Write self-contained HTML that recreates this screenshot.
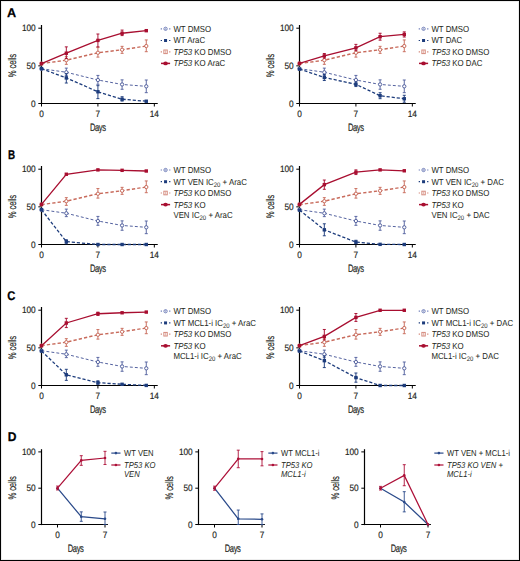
<!DOCTYPE html>
<html><head><meta charset="utf-8"><style>
html,body{margin:0;padding:0;background:#fff;}
body{width:520px;height:561px;position:relative;overflow:hidden;font-family:"Liberation Sans",sans-serif;}
.frame{position:absolute;left:0;top:0;width:518px;height:559px;border:1px solid #000;box-shadow:inset 0 0 0 1px rgba(0,0,0,0.07);}
</style></head><body>
<svg width="520" height="561" viewBox="0 0 520 561" font-family="Liberation Sans, sans-serif" text-rendering="geometricPrecision" style="position:absolute;left:0;top:0">
<rect x="0" y="0" width="520" height="561" fill="#fff"/>
<text transform="translate(6.90,17.26) scale(1.0,1)" font-size="12.7" fill="#000" font-weight="bold" stroke="#000" stroke-width="0.25">A</text>
<text transform="translate(8.00,159.06) scale(0.78,1)" font-size="12.7" fill="#000" font-weight="bold" stroke="#000" stroke-width="0.25">B</text>
<text transform="translate(7.30,300.06) scale(0.88,1)" font-size="12.7" fill="#000" font-weight="bold" stroke="#000" stroke-width="0.25">C</text>
<line x1="41.50" y1="25.00" x2="41.50" y2="104.10" stroke="#000" stroke-width="1.2" />
<line x1="40.90" y1="103.50" x2="157.74" y2="103.50" stroke="#000" stroke-width="1.2" />
<line x1="38.30" y1="103.50" x2="41.50" y2="103.50" stroke="#000" stroke-width="1.0" />
<text transform="translate(35.70,106.70) scale(0.9,1)" font-size="9.2" text-anchor="end" fill="#231f20" font-weight="normal" stroke="#231f20" stroke-width="0.17" >0</text>
<line x1="38.30" y1="65.85" x2="41.50" y2="65.85" stroke="#000" stroke-width="1.0" />
<text transform="translate(35.70,69.05) scale(0.9,1)" font-size="9.2" text-anchor="end" fill="#231f20" font-weight="normal" stroke="#231f20" stroke-width="0.17" >50</text>
<line x1="38.30" y1="28.20" x2="41.50" y2="28.20" stroke="#000" stroke-width="1.0" />
<text transform="translate(35.70,31.40) scale(0.9,1)" font-size="9.2" text-anchor="end" fill="#231f20" font-weight="normal" stroke="#231f20" stroke-width="0.17" >100</text>
<line x1="41.50" y1="103.50" x2="41.50" y2="106.50" stroke="#000" stroke-width="1.0" />
<text transform="translate(41.50,117.10) scale(0.9,1)" font-size="9.2" text-anchor="middle" fill="#231f20" font-weight="normal" stroke="#231f20" stroke-width="0.17" >0</text>
<line x1="97.92" y1="103.50" x2="97.92" y2="106.50" stroke="#000" stroke-width="1.0" />
<text transform="translate(97.92,117.10) scale(0.9,1)" font-size="9.2" text-anchor="middle" fill="#231f20" font-weight="normal" stroke="#231f20" stroke-width="0.17" >7</text>
<line x1="154.34" y1="103.50" x2="154.34" y2="106.50" stroke="#000" stroke-width="1.0" />
<text transform="translate(154.34,117.10) scale(0.9,1)" font-size="9.2" text-anchor="middle" fill="#231f20" font-weight="normal" stroke="#231f20" stroke-width="0.17" >14</text>
<text transform="translate(97.80,130.50) scale(0.7,1)" font-size="10.8" text-anchor="middle" fill="#231f20" font-weight="normal" stroke="#231f20" stroke-width="0.17" letter-spacing="-0.5">Days</text>
<text transform="translate(16.30,65.60) rotate(-90) scale(0.70,1)" font-size="11" text-anchor="middle" fill="#231f20" letter-spacing="-0.25" stroke="#231f20" stroke-width="0.17">% cells</text>
<path d="M41.50,68.71 L66.32,72.25 L97.92,80.01 L122.10,84.45 L146.28,86.33" fill="none" stroke="#5563a0" stroke-width="1.0" stroke-dasharray="2.9,2.1"/>
<circle cx="41.50" cy="68.71" r="1.65" fill="#fff" stroke="#5563a0" stroke-width="1.0"/>
<path d="M66.32,68.11V75.64M64.82,68.11h3M64.82,75.64h3" stroke="#5563a0" stroke-width="0.95" fill="none"/>
<circle cx="66.32" cy="72.25" r="1.65" fill="#fff" stroke="#5563a0" stroke-width="1.0"/>
<path d="M97.92,75.41V84.30M96.42,75.41h3M96.42,84.30h3" stroke="#5563a0" stroke-width="0.95" fill="none"/>
<circle cx="97.92" cy="80.01" r="1.65" fill="#fff" stroke="#5563a0" stroke-width="1.0"/>
<path d="M122.10,79.86V89.27M120.60,79.86h3M120.60,89.27h3" stroke="#5563a0" stroke-width="0.95" fill="none"/>
<circle cx="122.10" cy="84.45" r="1.65" fill="#fff" stroke="#5563a0" stroke-width="1.0"/>
<path d="M146.28,80.01V92.66M144.78,80.01h3M144.78,92.66h3" stroke="#5563a0" stroke-width="0.95" fill="none"/>
<circle cx="146.28" cy="86.33" r="1.65" fill="#fff" stroke="#5563a0" stroke-width="1.0"/>
<path d="M41.50,68.71 L66.32,77.90 L97.92,91.75 L122.10,99.21 L146.28,101.24" fill="none" stroke="#1d3c7c" stroke-width="1.3" stroke-dasharray="3.2,1.9"/>
<rect x="39.80" y="67.01" width="3.4" height="3.4" fill="#1d3c7c"/>
<path d="M66.32,73.76V83.02M64.82,73.76h3M64.82,83.02h3" stroke="#1d3c7c" stroke-width="0.95" fill="none"/>
<rect x="64.62" y="76.20" width="3.4" height="3.4" fill="#1d3c7c"/>
<path d="M97.92,85.65V98.61M96.42,85.65h3M96.42,98.61h3" stroke="#1d3c7c" stroke-width="0.95" fill="none"/>
<rect x="96.22" y="90.05" width="3.4" height="3.4" fill="#1d3c7c"/>
<path d="M122.10,96.72V101.09M120.60,96.72h3M120.60,101.09h3" stroke="#1d3c7c" stroke-width="0.95" fill="none"/>
<rect x="120.40" y="97.51" width="3.4" height="3.4" fill="#1d3c7c"/>
<rect x="144.58" y="99.54" width="3.4" height="3.4" fill="#1d3c7c"/>
<path d="M41.50,63.59 L66.32,60.20 L97.92,52.75 L122.10,49.74 L146.28,46.05" fill="none" stroke="#c86b5c" stroke-width="1.4" stroke-dasharray="3.3,2.1"/>
<circle cx="41.50" cy="63.59" r="1.65" fill="#fff" stroke="#c86b5c" stroke-width="1.0"/>
<path d="M66.32,56.66V64.34M64.82,56.66h3M64.82,64.34h3" stroke="#c86b5c" stroke-width="0.95" fill="none"/>
<circle cx="66.32" cy="60.20" r="1.65" fill="#fff" stroke="#c86b5c" stroke-width="1.0"/>
<path d="M97.92,47.55V57.12M96.42,47.55h3M96.42,57.12h3" stroke="#c86b5c" stroke-width="0.95" fill="none"/>
<circle cx="97.92" cy="52.75" r="1.65" fill="#fff" stroke="#c86b5c" stroke-width="1.0"/>
<path d="M122.10,46.35V53.35M120.60,46.35h3M120.60,53.35h3" stroke="#c86b5c" stroke-width="0.95" fill="none"/>
<circle cx="122.10" cy="49.74" r="1.65" fill="#fff" stroke="#c86b5c" stroke-width="1.0"/>
<path d="M146.28,39.95V51.69M144.78,39.95h3M144.78,51.69h3" stroke="#c86b5c" stroke-width="0.95" fill="none"/>
<circle cx="146.28" cy="46.05" r="1.65" fill="#fff" stroke="#c86b5c" stroke-width="1.0"/>
<path d="M41.50,63.59 L66.32,53.20 L97.92,40.40 L122.10,33.25 L146.28,30.68" fill="none" stroke="#a80e30" stroke-width="1.3" />
<rect x="39.80" y="61.89" width="3.4" height="3.4" fill="#a80e30"/>
<path d="M66.32,46.87V58.47M64.82,46.87h3M64.82,58.47h3" stroke="#a80e30" stroke-width="0.95" fill="none"/>
<rect x="64.62" y="51.50" width="3.4" height="3.4" fill="#a80e30"/>
<path d="M97.92,34.00V46.80M96.42,34.00h3M96.42,46.80h3" stroke="#a80e30" stroke-width="0.95" fill="none"/>
<rect x="96.22" y="38.70" width="3.4" height="3.4" fill="#a80e30"/>
<path d="M122.10,30.08V35.58M120.60,30.08h3M120.60,35.58h3" stroke="#a80e30" stroke-width="0.95" fill="none"/>
<rect x="120.40" y="31.55" width="3.4" height="3.4" fill="#a80e30"/>
<rect x="144.58" y="28.98" width="3.4" height="3.4" fill="#a80e30"/>
<path d="M160.70,28.80h1.3M169.10,28.80h1.3" stroke="#7482bb" stroke-width="1.2" fill="none"/>
<circle cx="165.55" cy="28.80" r="1.65" fill="#fff" stroke="#7482bb" stroke-width="1.0"/>
<line x1="165.55" y1="27.60" x2="165.55" y2="30.00" stroke="#7482bb" stroke-width="0.6" />
<text transform="translate(173.40,31.70) scale(0.903,1)" font-size="8.7" text-anchor="start" fill="#231f20" font-weight="normal"  >WT DMSO</text>
<path d="M160.70,40.50h1.3M169.10,40.50h1.3" stroke="#1d3c7c" stroke-width="1.2" fill="none"/>
<rect x="164.05" y="39.00" width="3.0" height="3.0" fill="#1d3c7c"/>
<text transform="translate(173.40,43.40) scale(0.903,1)" font-size="8.7" text-anchor="start" fill="#231f20" font-weight="normal"  >WT AraC</text>
<path d="M160.70,51.80h1.3M169.10,51.80h1.3" stroke="#d58b7e" stroke-width="1.2" fill="none"/>
<rect x="163.85" y="50.00" width="3.4" height="3.6" fill="#fff" stroke="#d58b7e" stroke-width="1.0"/>
<line x1="165.55" y1="50.40" x2="165.55" y2="53.20" stroke="#d58b7e" stroke-width="0.6" />
<text transform="translate(173.40,54.70) scale(0.903,1)" font-size="8.7" text-anchor="start" fill="#231f20" font-weight="normal"  ><tspan font-style="italic">TP53</tspan> KO DMSO</text>
<line x1="161.00" y1="63.40" x2="170.10" y2="63.40" stroke="#a80e30" stroke-width="1.5" />
<ellipse cx="165.55" cy="63.40" rx="2.3" ry="1.9" fill="#a80e30"/>
<text transform="translate(173.40,66.30) scale(0.903,1)" font-size="8.7" text-anchor="start" fill="#231f20" font-weight="normal"  ><tspan font-style="italic">TP53</tspan> KO AraC</text>
<line x1="299.50" y1="25.00" x2="299.50" y2="104.10" stroke="#000" stroke-width="1.2" />
<line x1="298.90" y1="103.50" x2="415.74" y2="103.50" stroke="#000" stroke-width="1.2" />
<line x1="296.30" y1="103.50" x2="299.50" y2="103.50" stroke="#000" stroke-width="1.0" />
<text transform="translate(293.70,106.70) scale(0.9,1)" font-size="9.2" text-anchor="end" fill="#231f20" font-weight="normal" stroke="#231f20" stroke-width="0.17" >0</text>
<line x1="296.30" y1="65.85" x2="299.50" y2="65.85" stroke="#000" stroke-width="1.0" />
<text transform="translate(293.70,69.05) scale(0.9,1)" font-size="9.2" text-anchor="end" fill="#231f20" font-weight="normal" stroke="#231f20" stroke-width="0.17" >50</text>
<line x1="296.30" y1="28.20" x2="299.50" y2="28.20" stroke="#000" stroke-width="1.0" />
<text transform="translate(293.70,31.40) scale(0.9,1)" font-size="9.2" text-anchor="end" fill="#231f20" font-weight="normal" stroke="#231f20" stroke-width="0.17" >100</text>
<line x1="299.50" y1="103.50" x2="299.50" y2="106.50" stroke="#000" stroke-width="1.0" />
<text transform="translate(299.50,117.10) scale(0.9,1)" font-size="9.2" text-anchor="middle" fill="#231f20" font-weight="normal" stroke="#231f20" stroke-width="0.17" >0</text>
<line x1="355.92" y1="103.50" x2="355.92" y2="106.50" stroke="#000" stroke-width="1.0" />
<text transform="translate(355.92,117.10) scale(0.9,1)" font-size="9.2" text-anchor="middle" fill="#231f20" font-weight="normal" stroke="#231f20" stroke-width="0.17" >7</text>
<line x1="412.34" y1="103.50" x2="412.34" y2="106.50" stroke="#000" stroke-width="1.0" />
<text transform="translate(412.34,117.10) scale(0.9,1)" font-size="9.2" text-anchor="middle" fill="#231f20" font-weight="normal" stroke="#231f20" stroke-width="0.17" >14</text>
<text transform="translate(355.80,130.50) scale(0.7,1)" font-size="10.8" text-anchor="middle" fill="#231f20" font-weight="normal" stroke="#231f20" stroke-width="0.17" letter-spacing="-0.5">Days</text>
<text transform="translate(274.30,65.60) rotate(-90) scale(0.70,1)" font-size="11" text-anchor="middle" fill="#231f20" letter-spacing="-0.25" stroke="#231f20" stroke-width="0.17">% cells</text>
<path d="M299.50,68.71 L324.32,72.25 L355.92,80.01 L380.10,84.45 L404.28,86.33" fill="none" stroke="#5563a0" stroke-width="1.0" stroke-dasharray="2.9,2.1"/>
<circle cx="299.50" cy="68.71" r="1.65" fill="#fff" stroke="#5563a0" stroke-width="1.0"/>
<path d="M324.32,68.11V75.64M322.82,68.11h3M322.82,75.64h3" stroke="#5563a0" stroke-width="0.95" fill="none"/>
<circle cx="324.32" cy="72.25" r="1.65" fill="#fff" stroke="#5563a0" stroke-width="1.0"/>
<path d="M355.92,75.41V84.30M354.42,75.41h3M354.42,84.30h3" stroke="#5563a0" stroke-width="0.95" fill="none"/>
<circle cx="355.92" cy="80.01" r="1.65" fill="#fff" stroke="#5563a0" stroke-width="1.0"/>
<path d="M380.10,79.86V89.27M378.60,79.86h3M378.60,89.27h3" stroke="#5563a0" stroke-width="0.95" fill="none"/>
<circle cx="380.10" cy="84.45" r="1.65" fill="#fff" stroke="#5563a0" stroke-width="1.0"/>
<path d="M404.28,80.01V92.66M402.78,80.01h3M402.78,92.66h3" stroke="#5563a0" stroke-width="0.95" fill="none"/>
<circle cx="404.28" cy="86.33" r="1.65" fill="#fff" stroke="#5563a0" stroke-width="1.0"/>
<path d="M299.50,69.09 L324.32,77.45 L355.92,84.37 L380.10,95.74 L404.28,98.76" fill="none" stroke="#1d3c7c" stroke-width="1.3" stroke-dasharray="3.2,1.9"/>
<rect x="297.80" y="67.39" width="3.4" height="3.4" fill="#1d3c7c"/>
<path d="M324.32,74.51V80.53M322.82,74.51h3M322.82,80.53h3" stroke="#1d3c7c" stroke-width="0.95" fill="none"/>
<rect x="322.62" y="75.75" width="3.4" height="3.4" fill="#1d3c7c"/>
<path d="M355.92,82.04V86.56M354.42,82.04h3M354.42,86.56h3" stroke="#1d3c7c" stroke-width="0.95" fill="none"/>
<rect x="354.22" y="82.67" width="3.4" height="3.4" fill="#1d3c7c"/>
<path d="M380.10,92.73V98.68M378.60,92.73h3M378.60,98.68h3" stroke="#1d3c7c" stroke-width="0.95" fill="none"/>
<rect x="378.40" y="94.04" width="3.4" height="3.4" fill="#1d3c7c"/>
<path d="M404.28,95.29V102.22M402.78,95.29h3M402.78,102.22h3" stroke="#1d3c7c" stroke-width="0.95" fill="none"/>
<rect x="402.58" y="97.06" width="3.4" height="3.4" fill="#1d3c7c"/>
<path d="M299.50,63.59 L324.32,60.20 L355.92,52.75 L380.10,49.74 L404.28,46.05" fill="none" stroke="#c86b5c" stroke-width="1.4" stroke-dasharray="3.3,2.1"/>
<circle cx="299.50" cy="63.59" r="1.65" fill="#fff" stroke="#c86b5c" stroke-width="1.0"/>
<path d="M324.32,56.66V64.34M322.82,56.66h3M322.82,64.34h3" stroke="#c86b5c" stroke-width="0.95" fill="none"/>
<circle cx="324.32" cy="60.20" r="1.65" fill="#fff" stroke="#c86b5c" stroke-width="1.0"/>
<path d="M355.92,47.55V57.12M354.42,47.55h3M354.42,57.12h3" stroke="#c86b5c" stroke-width="0.95" fill="none"/>
<circle cx="355.92" cy="52.75" r="1.65" fill="#fff" stroke="#c86b5c" stroke-width="1.0"/>
<path d="M380.10,46.35V53.35M378.60,46.35h3M378.60,53.35h3" stroke="#c86b5c" stroke-width="0.95" fill="none"/>
<circle cx="380.10" cy="49.74" r="1.65" fill="#fff" stroke="#c86b5c" stroke-width="1.0"/>
<path d="M404.28,39.95V51.69M402.78,39.95h3M402.78,51.69h3" stroke="#c86b5c" stroke-width="0.95" fill="none"/>
<circle cx="404.28" cy="46.05" r="1.65" fill="#fff" stroke="#c86b5c" stroke-width="1.0"/>
<path d="M299.50,63.37 L324.32,55.91 L355.92,47.85 L380.10,36.71 L404.28,34.45" fill="none" stroke="#a80e30" stroke-width="1.3" />
<rect x="297.80" y="61.67" width="3.4" height="3.4" fill="#a80e30"/>
<path d="M324.32,53.50V58.17M322.82,53.50h3M322.82,58.17h3" stroke="#a80e30" stroke-width="0.95" fill="none"/>
<rect x="322.62" y="54.21" width="3.4" height="3.4" fill="#a80e30"/>
<path d="M355.92,44.39V50.64M354.42,44.39h3M354.42,50.64h3" stroke="#a80e30" stroke-width="0.95" fill="none"/>
<rect x="354.22" y="46.15" width="3.4" height="3.4" fill="#a80e30"/>
<path d="M380.10,33.25V40.17M378.60,33.25h3M378.60,40.17h3" stroke="#a80e30" stroke-width="0.95" fill="none"/>
<rect x="378.40" y="35.01" width="3.4" height="3.4" fill="#a80e30"/>
<path d="M404.28,31.89V37.01M402.78,31.89h3M402.78,37.01h3" stroke="#a80e30" stroke-width="0.95" fill="none"/>
<rect x="402.58" y="32.75" width="3.4" height="3.4" fill="#a80e30"/>
<path d="M418.70,28.80h1.3M427.10,28.80h1.3" stroke="#7482bb" stroke-width="1.2" fill="none"/>
<circle cx="423.55" cy="28.80" r="1.65" fill="#fff" stroke="#7482bb" stroke-width="1.0"/>
<line x1="423.55" y1="27.60" x2="423.55" y2="30.00" stroke="#7482bb" stroke-width="0.6" />
<text transform="translate(431.40,31.70) scale(0.903,1)" font-size="8.7" text-anchor="start" fill="#231f20" font-weight="normal"  >WT DMSO</text>
<path d="M418.70,40.50h1.3M427.10,40.50h1.3" stroke="#1d3c7c" stroke-width="1.2" fill="none"/>
<rect x="422.05" y="39.00" width="3.0" height="3.0" fill="#1d3c7c"/>
<text transform="translate(431.40,43.40) scale(0.903,1)" font-size="8.7" text-anchor="start" fill="#231f20" font-weight="normal"  >WT DAC</text>
<path d="M418.70,51.80h1.3M427.10,51.80h1.3" stroke="#d58b7e" stroke-width="1.2" fill="none"/>
<rect x="421.85" y="50.00" width="3.4" height="3.6" fill="#fff" stroke="#d58b7e" stroke-width="1.0"/>
<line x1="423.55" y1="50.40" x2="423.55" y2="53.20" stroke="#d58b7e" stroke-width="0.6" />
<text transform="translate(431.40,54.70) scale(0.903,1)" font-size="8.7" text-anchor="start" fill="#231f20" font-weight="normal"  ><tspan font-style="italic">TP53</tspan> KO DMSO</text>
<line x1="419.00" y1="63.40" x2="428.10" y2="63.40" stroke="#a80e30" stroke-width="1.5" />
<ellipse cx="423.55" cy="63.40" rx="2.3" ry="1.9" fill="#a80e30"/>
<text transform="translate(431.40,66.30) scale(0.903,1)" font-size="8.7" text-anchor="start" fill="#231f20" font-weight="normal"  ><tspan font-style="italic">TP53</tspan> KO DAC</text>
<line x1="41.50" y1="166.00" x2="41.50" y2="245.10" stroke="#000" stroke-width="1.2" />
<line x1="40.90" y1="244.50" x2="157.74" y2="244.50" stroke="#000" stroke-width="1.2" />
<line x1="38.30" y1="244.50" x2="41.50" y2="244.50" stroke="#000" stroke-width="1.0" />
<text transform="translate(35.70,247.70) scale(0.9,1)" font-size="9.2" text-anchor="end" fill="#231f20" font-weight="normal" stroke="#231f20" stroke-width="0.17" >0</text>
<line x1="38.30" y1="206.85" x2="41.50" y2="206.85" stroke="#000" stroke-width="1.0" />
<text transform="translate(35.70,210.05) scale(0.9,1)" font-size="9.2" text-anchor="end" fill="#231f20" font-weight="normal" stroke="#231f20" stroke-width="0.17" >50</text>
<line x1="38.30" y1="169.20" x2="41.50" y2="169.20" stroke="#000" stroke-width="1.0" />
<text transform="translate(35.70,172.40) scale(0.9,1)" font-size="9.2" text-anchor="end" fill="#231f20" font-weight="normal" stroke="#231f20" stroke-width="0.17" >100</text>
<line x1="41.50" y1="244.50" x2="41.50" y2="247.50" stroke="#000" stroke-width="1.0" />
<text transform="translate(41.50,258.10) scale(0.9,1)" font-size="9.2" text-anchor="middle" fill="#231f20" font-weight="normal" stroke="#231f20" stroke-width="0.17" >0</text>
<line x1="97.92" y1="244.50" x2="97.92" y2="247.50" stroke="#000" stroke-width="1.0" />
<text transform="translate(97.92,258.10) scale(0.9,1)" font-size="9.2" text-anchor="middle" fill="#231f20" font-weight="normal" stroke="#231f20" stroke-width="0.17" >7</text>
<line x1="154.34" y1="244.50" x2="154.34" y2="247.50" stroke="#000" stroke-width="1.0" />
<text transform="translate(154.34,258.10) scale(0.9,1)" font-size="9.2" text-anchor="middle" fill="#231f20" font-weight="normal" stroke="#231f20" stroke-width="0.17" >14</text>
<text transform="translate(97.80,271.50) scale(0.7,1)" font-size="10.8" text-anchor="middle" fill="#231f20" font-weight="normal" stroke="#231f20" stroke-width="0.17" letter-spacing="-0.5">Days</text>
<text transform="translate(16.30,206.60) rotate(-90) scale(0.70,1)" font-size="11" text-anchor="middle" fill="#231f20" letter-spacing="-0.25" stroke="#231f20" stroke-width="0.17">% cells</text>
<path d="M41.50,209.71 L66.32,213.25 L97.92,221.01 L122.10,225.45 L146.28,227.33" fill="none" stroke="#5563a0" stroke-width="1.0" stroke-dasharray="2.9,2.1"/>
<circle cx="41.50" cy="209.71" r="1.65" fill="#fff" stroke="#5563a0" stroke-width="1.0"/>
<path d="M66.32,209.11V216.64M64.82,209.11h3M64.82,216.64h3" stroke="#5563a0" stroke-width="0.95" fill="none"/>
<circle cx="66.32" cy="213.25" r="1.65" fill="#fff" stroke="#5563a0" stroke-width="1.0"/>
<path d="M97.92,216.41V225.30M96.42,216.41h3M96.42,225.30h3" stroke="#5563a0" stroke-width="0.95" fill="none"/>
<circle cx="97.92" cy="221.01" r="1.65" fill="#fff" stroke="#5563a0" stroke-width="1.0"/>
<path d="M122.10,220.86V230.27M120.60,220.86h3M120.60,230.27h3" stroke="#5563a0" stroke-width="0.95" fill="none"/>
<circle cx="122.10" cy="225.45" r="1.65" fill="#fff" stroke="#5563a0" stroke-width="1.0"/>
<path d="M146.28,221.01V233.66M144.78,221.01h3M144.78,233.66h3" stroke="#5563a0" stroke-width="0.95" fill="none"/>
<circle cx="146.28" cy="227.33" r="1.65" fill="#fff" stroke="#5563a0" stroke-width="1.0"/>
<path d="M41.50,209.71 L66.32,241.64 L97.92,244.50 L122.10,244.50 L146.28,244.50" fill="none" stroke="#1d3c7c" stroke-width="1.3" stroke-dasharray="3.2,1.9"/>
<rect x="39.80" y="208.01" width="3.4" height="3.4" fill="#1d3c7c"/>
<path d="M66.32,239.76V243.75M64.82,239.76h3M64.82,243.75h3" stroke="#1d3c7c" stroke-width="0.95" fill="none"/>
<rect x="64.62" y="239.94" width="3.4" height="3.4" fill="#1d3c7c"/>
<rect x="96.22" y="242.80" width="3.4" height="3.4" fill="#1d3c7c"/>
<rect x="120.40" y="242.80" width="3.4" height="3.4" fill="#1d3c7c"/>
<rect x="144.58" y="242.80" width="3.4" height="3.4" fill="#1d3c7c"/>
<path d="M41.50,204.59 L66.32,201.20 L97.92,193.75 L122.10,190.74 L146.28,187.05" fill="none" stroke="#c86b5c" stroke-width="1.4" stroke-dasharray="3.3,2.1"/>
<circle cx="41.50" cy="204.59" r="1.65" fill="#fff" stroke="#c86b5c" stroke-width="1.0"/>
<path d="M66.32,197.66V205.34M64.82,197.66h3M64.82,205.34h3" stroke="#c86b5c" stroke-width="0.95" fill="none"/>
<circle cx="66.32" cy="201.20" r="1.65" fill="#fff" stroke="#c86b5c" stroke-width="1.0"/>
<path d="M97.92,188.55V198.12M96.42,188.55h3M96.42,198.12h3" stroke="#c86b5c" stroke-width="0.95" fill="none"/>
<circle cx="97.92" cy="193.75" r="1.65" fill="#fff" stroke="#c86b5c" stroke-width="1.0"/>
<path d="M122.10,187.35V194.35M120.60,187.35h3M120.60,194.35h3" stroke="#c86b5c" stroke-width="0.95" fill="none"/>
<circle cx="122.10" cy="190.74" r="1.65" fill="#fff" stroke="#c86b5c" stroke-width="1.0"/>
<path d="M146.28,180.95V192.69M144.78,180.95h3M144.78,192.69h3" stroke="#c86b5c" stroke-width="0.95" fill="none"/>
<circle cx="146.28" cy="187.05" r="1.65" fill="#fff" stroke="#c86b5c" stroke-width="1.0"/>
<path d="M41.50,204.37 L66.32,174.25 L97.92,169.88 L122.10,170.33 L146.28,171.01" fill="none" stroke="#a80e30" stroke-width="1.3" />
<rect x="39.80" y="202.67" width="3.4" height="3.4" fill="#a80e30"/>
<rect x="64.62" y="172.55" width="3.4" height="3.4" fill="#a80e30"/>
<rect x="96.22" y="168.18" width="3.4" height="3.4" fill="#a80e30"/>
<rect x="120.40" y="168.63" width="3.4" height="3.4" fill="#a80e30"/>
<rect x="144.58" y="169.31" width="3.4" height="3.4" fill="#a80e30"/>
<path d="M160.70,170.01h1.3M169.10,170.01h1.3" stroke="#7482bb" stroke-width="1.2" fill="none"/>
<circle cx="165.55" cy="170.01" r="1.65" fill="#fff" stroke="#7482bb" stroke-width="1.0"/>
<line x1="165.55" y1="168.81" x2="165.55" y2="171.21" stroke="#7482bb" stroke-width="0.6" />
<text transform="translate(173.40,172.91) scale(0.903,1)" font-size="8.7" text-anchor="start" fill="#231f20" font-weight="normal"  >WT DMSO</text>
<path d="M160.70,181.71h1.3M169.10,181.71h1.3" stroke="#1d3c7c" stroke-width="1.2" fill="none"/>
<rect x="164.05" y="180.21" width="3.0" height="3.0" fill="#1d3c7c"/>
<text transform="translate(173.40,184.61) scale(0.903,1)" font-size="8.7" text-anchor="start" fill="#231f20" font-weight="normal"  >WT VEN IC<tspan font-size="6.6" dy="2.3">20</tspan><tspan dy="-2.3"> </tspan>+ AraC</text>
<path d="M160.70,193.01h1.3M169.10,193.01h1.3" stroke="#d58b7e" stroke-width="1.2" fill="none"/>
<rect x="163.85" y="191.21" width="3.4" height="3.6" fill="#fff" stroke="#d58b7e" stroke-width="1.0"/>
<line x1="165.55" y1="191.61" x2="165.55" y2="194.41" stroke="#d58b7e" stroke-width="0.6" />
<text transform="translate(173.40,195.91) scale(0.903,1)" font-size="8.7" text-anchor="start" fill="#231f20" font-weight="normal"  ><tspan font-style="italic">TP53</tspan> KO DMSO</text>
<line x1="161.00" y1="204.61" x2="170.10" y2="204.61" stroke="#a80e30" stroke-width="1.5" />
<ellipse cx="165.55" cy="204.61" rx="2.3" ry="1.9" fill="#a80e30"/>
<text transform="translate(173.40,207.51) scale(0.903,1)" font-size="8.7" text-anchor="start" fill="#231f20" font-weight="normal"  ><tspan font-style="italic">TP53</tspan> KO</text>
<text transform="translate(173.40,217.51) scale(0.903,1)" font-size="8.7" text-anchor="start" fill="#231f20" font-weight="normal"  >VEN IC<tspan font-size="6.6" dy="2.3">20</tspan><tspan dy="-2.3"> </tspan>+ AraC</text>
<line x1="299.50" y1="166.00" x2="299.50" y2="245.10" stroke="#000" stroke-width="1.2" />
<line x1="298.90" y1="244.50" x2="415.74" y2="244.50" stroke="#000" stroke-width="1.2" />
<line x1="296.30" y1="244.50" x2="299.50" y2="244.50" stroke="#000" stroke-width="1.0" />
<text transform="translate(293.70,247.70) scale(0.9,1)" font-size="9.2" text-anchor="end" fill="#231f20" font-weight="normal" stroke="#231f20" stroke-width="0.17" >0</text>
<line x1="296.30" y1="206.85" x2="299.50" y2="206.85" stroke="#000" stroke-width="1.0" />
<text transform="translate(293.70,210.05) scale(0.9,1)" font-size="9.2" text-anchor="end" fill="#231f20" font-weight="normal" stroke="#231f20" stroke-width="0.17" >50</text>
<line x1="296.30" y1="169.20" x2="299.50" y2="169.20" stroke="#000" stroke-width="1.0" />
<text transform="translate(293.70,172.40) scale(0.9,1)" font-size="9.2" text-anchor="end" fill="#231f20" font-weight="normal" stroke="#231f20" stroke-width="0.17" >100</text>
<line x1="299.50" y1="244.50" x2="299.50" y2="247.50" stroke="#000" stroke-width="1.0" />
<text transform="translate(299.50,258.10) scale(0.9,1)" font-size="9.2" text-anchor="middle" fill="#231f20" font-weight="normal" stroke="#231f20" stroke-width="0.17" >0</text>
<line x1="355.92" y1="244.50" x2="355.92" y2="247.50" stroke="#000" stroke-width="1.0" />
<text transform="translate(355.92,258.10) scale(0.9,1)" font-size="9.2" text-anchor="middle" fill="#231f20" font-weight="normal" stroke="#231f20" stroke-width="0.17" >7</text>
<line x1="412.34" y1="244.50" x2="412.34" y2="247.50" stroke="#000" stroke-width="1.0" />
<text transform="translate(412.34,258.10) scale(0.9,1)" font-size="9.2" text-anchor="middle" fill="#231f20" font-weight="normal" stroke="#231f20" stroke-width="0.17" >14</text>
<text transform="translate(355.80,271.50) scale(0.7,1)" font-size="10.8" text-anchor="middle" fill="#231f20" font-weight="normal" stroke="#231f20" stroke-width="0.17" letter-spacing="-0.5">Days</text>
<text transform="translate(274.30,206.60) rotate(-90) scale(0.70,1)" font-size="11" text-anchor="middle" fill="#231f20" letter-spacing="-0.25" stroke="#231f20" stroke-width="0.17">% cells</text>
<path d="M299.50,209.71 L324.32,213.25 L355.92,221.01 L380.10,225.45 L404.28,227.33" fill="none" stroke="#5563a0" stroke-width="1.0" stroke-dasharray="2.9,2.1"/>
<circle cx="299.50" cy="209.71" r="1.65" fill="#fff" stroke="#5563a0" stroke-width="1.0"/>
<path d="M324.32,209.11V216.64M322.82,209.11h3M322.82,216.64h3" stroke="#5563a0" stroke-width="0.95" fill="none"/>
<circle cx="324.32" cy="213.25" r="1.65" fill="#fff" stroke="#5563a0" stroke-width="1.0"/>
<path d="M355.92,216.41V225.30M354.42,216.41h3M354.42,225.30h3" stroke="#5563a0" stroke-width="0.95" fill="none"/>
<circle cx="355.92" cy="221.01" r="1.65" fill="#fff" stroke="#5563a0" stroke-width="1.0"/>
<path d="M380.10,220.86V230.27M378.60,220.86h3M378.60,230.27h3" stroke="#5563a0" stroke-width="0.95" fill="none"/>
<circle cx="380.10" cy="225.45" r="1.65" fill="#fff" stroke="#5563a0" stroke-width="1.0"/>
<path d="M404.28,221.01V233.66M402.78,221.01h3M402.78,233.66h3" stroke="#5563a0" stroke-width="0.95" fill="none"/>
<circle cx="404.28" cy="227.33" r="1.65" fill="#fff" stroke="#5563a0" stroke-width="1.0"/>
<path d="M299.50,210.09 L324.32,229.82 L355.92,242.09 L380.10,244.35 L404.28,244.50" fill="none" stroke="#1d3c7c" stroke-width="1.3" stroke-dasharray="3.2,1.9"/>
<rect x="297.80" y="208.39" width="3.4" height="3.4" fill="#1d3c7c"/>
<path d="M324.32,223.79V235.77M322.82,223.79h3M322.82,235.77h3" stroke="#1d3c7c" stroke-width="0.95" fill="none"/>
<rect x="322.62" y="228.12" width="3.4" height="3.4" fill="#1d3c7c"/>
<path d="M355.92,240.28V243.75M354.42,240.28h3M354.42,243.75h3" stroke="#1d3c7c" stroke-width="0.95" fill="none"/>
<rect x="354.22" y="240.39" width="3.4" height="3.4" fill="#1d3c7c"/>
<rect x="378.40" y="242.65" width="3.4" height="3.4" fill="#1d3c7c"/>
<rect x="402.58" y="242.80" width="3.4" height="3.4" fill="#1d3c7c"/>
<path d="M299.50,204.59 L324.32,201.20 L355.92,193.75 L380.10,190.74 L404.28,187.05" fill="none" stroke="#c86b5c" stroke-width="1.4" stroke-dasharray="3.3,2.1"/>
<circle cx="299.50" cy="204.59" r="1.65" fill="#fff" stroke="#c86b5c" stroke-width="1.0"/>
<path d="M324.32,197.66V205.34M322.82,197.66h3M322.82,205.34h3" stroke="#c86b5c" stroke-width="0.95" fill="none"/>
<circle cx="324.32" cy="201.20" r="1.65" fill="#fff" stroke="#c86b5c" stroke-width="1.0"/>
<path d="M355.92,188.55V198.12M354.42,188.55h3M354.42,198.12h3" stroke="#c86b5c" stroke-width="0.95" fill="none"/>
<circle cx="355.92" cy="193.75" r="1.65" fill="#fff" stroke="#c86b5c" stroke-width="1.0"/>
<path d="M380.10,187.35V194.35M378.60,187.35h3M378.60,194.35h3" stroke="#c86b5c" stroke-width="0.95" fill="none"/>
<circle cx="380.10" cy="190.74" r="1.65" fill="#fff" stroke="#c86b5c" stroke-width="1.0"/>
<path d="M404.28,180.95V192.69M402.78,180.95h3M402.78,192.69h3" stroke="#c86b5c" stroke-width="0.95" fill="none"/>
<circle cx="404.28" cy="187.05" r="1.65" fill="#fff" stroke="#c86b5c" stroke-width="1.0"/>
<path d="M299.50,204.37 L324.32,184.64 L355.92,172.21 L380.10,169.88 L404.28,170.78" fill="none" stroke="#a80e30" stroke-width="1.3" />
<rect x="297.80" y="202.67" width="3.4" height="3.4" fill="#a80e30"/>
<path d="M324.32,180.04V189.31M322.82,180.04h3M322.82,189.31h3" stroke="#a80e30" stroke-width="0.95" fill="none"/>
<rect x="322.62" y="182.94" width="3.4" height="3.4" fill="#a80e30"/>
<path d="M355.92,169.88V174.55M354.42,169.88h3M354.42,174.55h3" stroke="#a80e30" stroke-width="0.95" fill="none"/>
<rect x="354.22" y="170.51" width="3.4" height="3.4" fill="#a80e30"/>
<rect x="378.40" y="168.18" width="3.4" height="3.4" fill="#a80e30"/>
<rect x="402.58" y="169.08" width="3.4" height="3.4" fill="#a80e30"/>
<path d="M418.70,170.01h1.3M427.10,170.01h1.3" stroke="#7482bb" stroke-width="1.2" fill="none"/>
<circle cx="423.55" cy="170.01" r="1.65" fill="#fff" stroke="#7482bb" stroke-width="1.0"/>
<line x1="423.55" y1="168.81" x2="423.55" y2="171.21" stroke="#7482bb" stroke-width="0.6" />
<text transform="translate(431.40,172.91) scale(0.903,1)" font-size="8.7" text-anchor="start" fill="#231f20" font-weight="normal"  >WT DMSO</text>
<path d="M418.70,181.71h1.3M427.10,181.71h1.3" stroke="#1d3c7c" stroke-width="1.2" fill="none"/>
<rect x="422.05" y="180.21" width="3.0" height="3.0" fill="#1d3c7c"/>
<text transform="translate(431.40,184.61) scale(0.903,1)" font-size="8.7" text-anchor="start" fill="#231f20" font-weight="normal"  >WT VEN IC<tspan font-size="6.6" dy="2.3">20</tspan><tspan dy="-2.3"> </tspan>+ DAC</text>
<path d="M418.70,193.01h1.3M427.10,193.01h1.3" stroke="#d58b7e" stroke-width="1.2" fill="none"/>
<rect x="421.85" y="191.21" width="3.4" height="3.6" fill="#fff" stroke="#d58b7e" stroke-width="1.0"/>
<line x1="423.55" y1="191.61" x2="423.55" y2="194.41" stroke="#d58b7e" stroke-width="0.6" />
<text transform="translate(431.40,195.91) scale(0.903,1)" font-size="8.7" text-anchor="start" fill="#231f20" font-weight="normal"  ><tspan font-style="italic">TP53</tspan> KO DMSO</text>
<line x1="419.00" y1="204.61" x2="428.10" y2="204.61" stroke="#a80e30" stroke-width="1.5" />
<ellipse cx="423.55" cy="204.61" rx="2.3" ry="1.9" fill="#a80e30"/>
<text transform="translate(431.40,207.51) scale(0.903,1)" font-size="8.7" text-anchor="start" fill="#231f20" font-weight="normal"  ><tspan font-style="italic">TP53</tspan> KO</text>
<text transform="translate(431.40,217.51) scale(0.903,1)" font-size="8.7" text-anchor="start" fill="#231f20" font-weight="normal"  >VEN IC<tspan font-size="6.6" dy="2.3">20</tspan><tspan dy="-2.3"> </tspan>+ DAC</text>
<line x1="41.50" y1="307.00" x2="41.50" y2="386.10" stroke="#000" stroke-width="1.2" />
<line x1="40.90" y1="385.50" x2="157.74" y2="385.50" stroke="#000" stroke-width="1.2" />
<line x1="38.30" y1="385.50" x2="41.50" y2="385.50" stroke="#000" stroke-width="1.0" />
<text transform="translate(35.70,388.70) scale(0.9,1)" font-size="9.2" text-anchor="end" fill="#231f20" font-weight="normal" stroke="#231f20" stroke-width="0.17" >0</text>
<line x1="38.30" y1="347.85" x2="41.50" y2="347.85" stroke="#000" stroke-width="1.0" />
<text transform="translate(35.70,351.05) scale(0.9,1)" font-size="9.2" text-anchor="end" fill="#231f20" font-weight="normal" stroke="#231f20" stroke-width="0.17" >50</text>
<line x1="38.30" y1="310.20" x2="41.50" y2="310.20" stroke="#000" stroke-width="1.0" />
<text transform="translate(35.70,313.40) scale(0.9,1)" font-size="9.2" text-anchor="end" fill="#231f20" font-weight="normal" stroke="#231f20" stroke-width="0.17" >100</text>
<line x1="41.50" y1="385.50" x2="41.50" y2="388.50" stroke="#000" stroke-width="1.0" />
<text transform="translate(41.50,399.10) scale(0.9,1)" font-size="9.2" text-anchor="middle" fill="#231f20" font-weight="normal" stroke="#231f20" stroke-width="0.17" >0</text>
<line x1="97.92" y1="385.50" x2="97.92" y2="388.50" stroke="#000" stroke-width="1.0" />
<text transform="translate(97.92,399.10) scale(0.9,1)" font-size="9.2" text-anchor="middle" fill="#231f20" font-weight="normal" stroke="#231f20" stroke-width="0.17" >7</text>
<line x1="154.34" y1="385.50" x2="154.34" y2="388.50" stroke="#000" stroke-width="1.0" />
<text transform="translate(154.34,399.10) scale(0.9,1)" font-size="9.2" text-anchor="middle" fill="#231f20" font-weight="normal" stroke="#231f20" stroke-width="0.17" >14</text>
<text transform="translate(97.80,412.50) scale(0.7,1)" font-size="10.8" text-anchor="middle" fill="#231f20" font-weight="normal" stroke="#231f20" stroke-width="0.17" letter-spacing="-0.5">Days</text>
<text transform="translate(16.30,347.60) rotate(-90) scale(0.70,1)" font-size="11" text-anchor="middle" fill="#231f20" letter-spacing="-0.25" stroke="#231f20" stroke-width="0.17">% cells</text>
<path d="M41.50,350.71 L66.32,354.25 L97.92,362.01 L122.10,366.45 L146.28,368.33" fill="none" stroke="#5563a0" stroke-width="1.0" stroke-dasharray="2.9,2.1"/>
<circle cx="41.50" cy="350.71" r="1.65" fill="#fff" stroke="#5563a0" stroke-width="1.0"/>
<path d="M66.32,350.11V357.64M64.82,350.11h3M64.82,357.64h3" stroke="#5563a0" stroke-width="0.95" fill="none"/>
<circle cx="66.32" cy="354.25" r="1.65" fill="#fff" stroke="#5563a0" stroke-width="1.0"/>
<path d="M97.92,357.41V366.30M96.42,357.41h3M96.42,366.30h3" stroke="#5563a0" stroke-width="0.95" fill="none"/>
<circle cx="97.92" cy="362.01" r="1.65" fill="#fff" stroke="#5563a0" stroke-width="1.0"/>
<path d="M122.10,361.86V371.27M120.60,361.86h3M120.60,371.27h3" stroke="#5563a0" stroke-width="0.95" fill="none"/>
<circle cx="122.10" cy="366.45" r="1.65" fill="#fff" stroke="#5563a0" stroke-width="1.0"/>
<path d="M146.28,362.01V374.66M144.78,362.01h3M144.78,374.66h3" stroke="#5563a0" stroke-width="0.95" fill="none"/>
<circle cx="146.28" cy="368.33" r="1.65" fill="#fff" stroke="#5563a0" stroke-width="1.0"/>
<path d="M41.50,351.01 L66.32,374.81 L97.92,382.64 L122.10,384.30 L146.28,385.42" fill="none" stroke="#1d3c7c" stroke-width="1.3" stroke-dasharray="3.2,1.9"/>
<rect x="39.80" y="349.31" width="3.4" height="3.4" fill="#1d3c7c"/>
<path d="M66.32,369.31V380.38M64.82,369.31h3M64.82,380.38h3" stroke="#1d3c7c" stroke-width="0.95" fill="none"/>
<rect x="64.62" y="373.11" width="3.4" height="3.4" fill="#1d3c7c"/>
<path d="M97.92,380.83V384.30M96.42,380.83h3M96.42,384.30h3" stroke="#1d3c7c" stroke-width="0.95" fill="none"/>
<rect x="96.22" y="380.94" width="3.4" height="3.4" fill="#1d3c7c"/>
<rect x="120.40" y="382.60" width="3.4" height="3.4" fill="#1d3c7c"/>
<rect x="144.58" y="383.72" width="3.4" height="3.4" fill="#1d3c7c"/>
<path d="M41.50,345.59 L66.32,342.20 L97.92,334.75 L122.10,331.74 L146.28,328.05" fill="none" stroke="#c86b5c" stroke-width="1.4" stroke-dasharray="3.3,2.1"/>
<circle cx="41.50" cy="345.59" r="1.65" fill="#fff" stroke="#c86b5c" stroke-width="1.0"/>
<path d="M66.32,338.66V346.34M64.82,338.66h3M64.82,346.34h3" stroke="#c86b5c" stroke-width="0.95" fill="none"/>
<circle cx="66.32" cy="342.20" r="1.65" fill="#fff" stroke="#c86b5c" stroke-width="1.0"/>
<path d="M97.92,329.55V339.12M96.42,329.55h3M96.42,339.12h3" stroke="#c86b5c" stroke-width="0.95" fill="none"/>
<circle cx="97.92" cy="334.75" r="1.65" fill="#fff" stroke="#c86b5c" stroke-width="1.0"/>
<path d="M122.10,328.35V335.35M120.60,328.35h3M120.60,335.35h3" stroke="#c86b5c" stroke-width="0.95" fill="none"/>
<circle cx="122.10" cy="331.74" r="1.65" fill="#fff" stroke="#c86b5c" stroke-width="1.0"/>
<path d="M146.28,321.95V333.69M144.78,321.95h3M144.78,333.69h3" stroke="#c86b5c" stroke-width="0.95" fill="none"/>
<circle cx="146.28" cy="328.05" r="1.65" fill="#fff" stroke="#c86b5c" stroke-width="1.0"/>
<path d="M41.50,345.67 L66.32,323.00 L97.92,313.74 L122.10,312.76 L146.28,312.08" fill="none" stroke="#a80e30" stroke-width="1.3" />
<rect x="39.80" y="343.97" width="3.4" height="3.4" fill="#a80e30"/>
<path d="M66.32,318.33V327.59M64.82,318.33h3M64.82,327.59h3" stroke="#a80e30" stroke-width="0.95" fill="none"/>
<rect x="64.62" y="321.30" width="3.4" height="3.4" fill="#a80e30"/>
<path d="M97.92,312.16V315.40M96.42,312.16h3M96.42,315.40h3" stroke="#a80e30" stroke-width="0.95" fill="none"/>
<rect x="96.22" y="312.04" width="3.4" height="3.4" fill="#a80e30"/>
<rect x="120.40" y="311.06" width="3.4" height="3.4" fill="#a80e30"/>
<rect x="144.58" y="310.38" width="3.4" height="3.4" fill="#a80e30"/>
<path d="M160.70,311.22h1.3M169.10,311.22h1.3" stroke="#7482bb" stroke-width="1.2" fill="none"/>
<circle cx="165.55" cy="311.22" r="1.65" fill="#fff" stroke="#7482bb" stroke-width="1.0"/>
<line x1="165.55" y1="310.02" x2="165.55" y2="312.42" stroke="#7482bb" stroke-width="0.6" />
<text transform="translate(173.40,314.12) scale(0.903,1)" font-size="8.7" text-anchor="start" fill="#231f20" font-weight="normal"  >WT DMSO</text>
<path d="M160.70,322.92h1.3M169.10,322.92h1.3" stroke="#1d3c7c" stroke-width="1.2" fill="none"/>
<rect x="164.05" y="321.42" width="3.0" height="3.0" fill="#1d3c7c"/>
<text transform="translate(173.40,325.82) scale(0.903,1)" font-size="8.7" text-anchor="start" fill="#231f20" font-weight="normal"  >WT MCL1-i IC<tspan font-size="6.6" dy="2.3">20</tspan><tspan dy="-2.3"> </tspan>+ AraC</text>
<path d="M160.70,334.22h1.3M169.10,334.22h1.3" stroke="#d58b7e" stroke-width="1.2" fill="none"/>
<rect x="163.85" y="332.42" width="3.4" height="3.6" fill="#fff" stroke="#d58b7e" stroke-width="1.0"/>
<line x1="165.55" y1="332.82" x2="165.55" y2="335.62" stroke="#d58b7e" stroke-width="0.6" />
<text transform="translate(173.40,337.12) scale(0.903,1)" font-size="8.7" text-anchor="start" fill="#231f20" font-weight="normal"  ><tspan font-style="italic">TP53</tspan> KO DMSO</text>
<line x1="161.00" y1="345.82" x2="170.10" y2="345.82" stroke="#a80e30" stroke-width="1.5" />
<ellipse cx="165.55" cy="345.82" rx="2.3" ry="1.9" fill="#a80e30"/>
<text transform="translate(173.40,348.72) scale(0.903,1)" font-size="8.7" text-anchor="start" fill="#231f20" font-weight="normal"  ><tspan font-style="italic">TP53</tspan> KO</text>
<text transform="translate(173.40,358.72) scale(0.903,1)" font-size="8.7" text-anchor="start" fill="#231f20" font-weight="normal"  >MCL1-i IC<tspan font-size="6.6" dy="2.3">20</tspan><tspan dy="-2.3"> </tspan>+ AraC</text>
<line x1="299.50" y1="307.00" x2="299.50" y2="386.10" stroke="#000" stroke-width="1.2" />
<line x1="298.90" y1="385.50" x2="415.74" y2="385.50" stroke="#000" stroke-width="1.2" />
<line x1="296.30" y1="385.50" x2="299.50" y2="385.50" stroke="#000" stroke-width="1.0" />
<text transform="translate(293.70,388.70) scale(0.9,1)" font-size="9.2" text-anchor="end" fill="#231f20" font-weight="normal" stroke="#231f20" stroke-width="0.17" >0</text>
<line x1="296.30" y1="347.85" x2="299.50" y2="347.85" stroke="#000" stroke-width="1.0" />
<text transform="translate(293.70,351.05) scale(0.9,1)" font-size="9.2" text-anchor="end" fill="#231f20" font-weight="normal" stroke="#231f20" stroke-width="0.17" >50</text>
<line x1="296.30" y1="310.20" x2="299.50" y2="310.20" stroke="#000" stroke-width="1.0" />
<text transform="translate(293.70,313.40) scale(0.9,1)" font-size="9.2" text-anchor="end" fill="#231f20" font-weight="normal" stroke="#231f20" stroke-width="0.17" >100</text>
<line x1="299.50" y1="385.50" x2="299.50" y2="388.50" stroke="#000" stroke-width="1.0" />
<text transform="translate(299.50,399.10) scale(0.9,1)" font-size="9.2" text-anchor="middle" fill="#231f20" font-weight="normal" stroke="#231f20" stroke-width="0.17" >0</text>
<line x1="355.92" y1="385.50" x2="355.92" y2="388.50" stroke="#000" stroke-width="1.0" />
<text transform="translate(355.92,399.10) scale(0.9,1)" font-size="9.2" text-anchor="middle" fill="#231f20" font-weight="normal" stroke="#231f20" stroke-width="0.17" >7</text>
<line x1="412.34" y1="385.50" x2="412.34" y2="388.50" stroke="#000" stroke-width="1.0" />
<text transform="translate(412.34,399.10) scale(0.9,1)" font-size="9.2" text-anchor="middle" fill="#231f20" font-weight="normal" stroke="#231f20" stroke-width="0.17" >14</text>
<text transform="translate(355.80,412.50) scale(0.7,1)" font-size="10.8" text-anchor="middle" fill="#231f20" font-weight="normal" stroke="#231f20" stroke-width="0.17" letter-spacing="-0.5">Days</text>
<text transform="translate(274.30,347.60) rotate(-90) scale(0.70,1)" font-size="11" text-anchor="middle" fill="#231f20" letter-spacing="-0.25" stroke="#231f20" stroke-width="0.17">% cells</text>
<path d="M299.50,350.71 L324.32,354.25 L355.92,362.01 L380.10,366.45 L404.28,368.33" fill="none" stroke="#5563a0" stroke-width="1.0" stroke-dasharray="2.9,2.1"/>
<circle cx="299.50" cy="350.71" r="1.65" fill="#fff" stroke="#5563a0" stroke-width="1.0"/>
<path d="M324.32,350.11V357.64M322.82,350.11h3M322.82,357.64h3" stroke="#5563a0" stroke-width="0.95" fill="none"/>
<circle cx="324.32" cy="354.25" r="1.65" fill="#fff" stroke="#5563a0" stroke-width="1.0"/>
<path d="M355.92,357.41V366.30M354.42,357.41h3M354.42,366.30h3" stroke="#5563a0" stroke-width="0.95" fill="none"/>
<circle cx="355.92" cy="362.01" r="1.65" fill="#fff" stroke="#5563a0" stroke-width="1.0"/>
<path d="M380.10,361.86V371.27M378.60,361.86h3M378.60,371.27h3" stroke="#5563a0" stroke-width="0.95" fill="none"/>
<circle cx="380.10" cy="366.45" r="1.65" fill="#fff" stroke="#5563a0" stroke-width="1.0"/>
<path d="M404.28,362.01V374.66M402.78,362.01h3M402.78,374.66h3" stroke="#5563a0" stroke-width="0.95" fill="none"/>
<circle cx="404.28" cy="368.33" r="1.65" fill="#fff" stroke="#5563a0" stroke-width="1.0"/>
<path d="M299.50,351.01 L324.32,360.65 L355.92,377.59 L380.10,385.50 L404.28,385.50" fill="none" stroke="#1d3c7c" stroke-width="1.3" stroke-dasharray="3.2,1.9"/>
<rect x="297.80" y="349.31" width="3.4" height="3.4" fill="#1d3c7c"/>
<path d="M324.32,355.98V367.58M322.82,355.98h3M322.82,367.58h3" stroke="#1d3c7c" stroke-width="0.95" fill="none"/>
<rect x="322.62" y="358.95" width="3.4" height="3.4" fill="#1d3c7c"/>
<path d="M355.92,373.00V382.19M354.42,373.00h3M354.42,382.19h3" stroke="#1d3c7c" stroke-width="0.95" fill="none"/>
<rect x="354.22" y="375.89" width="3.4" height="3.4" fill="#1d3c7c"/>
<rect x="378.40" y="383.80" width="3.4" height="3.4" fill="#1d3c7c"/>
<rect x="402.58" y="383.80" width="3.4" height="3.4" fill="#1d3c7c"/>
<path d="M299.50,345.59 L324.32,342.20 L355.92,334.75 L380.10,331.74 L404.28,328.05" fill="none" stroke="#c86b5c" stroke-width="1.4" stroke-dasharray="3.3,2.1"/>
<circle cx="299.50" cy="345.59" r="1.65" fill="#fff" stroke="#c86b5c" stroke-width="1.0"/>
<path d="M324.32,338.66V346.34M322.82,338.66h3M322.82,346.34h3" stroke="#c86b5c" stroke-width="0.95" fill="none"/>
<circle cx="324.32" cy="342.20" r="1.65" fill="#fff" stroke="#c86b5c" stroke-width="1.0"/>
<path d="M355.92,329.55V339.12M354.42,329.55h3M354.42,339.12h3" stroke="#c86b5c" stroke-width="0.95" fill="none"/>
<circle cx="355.92" cy="334.75" r="1.65" fill="#fff" stroke="#c86b5c" stroke-width="1.0"/>
<path d="M380.10,328.35V335.35M378.60,328.35h3M378.60,335.35h3" stroke="#c86b5c" stroke-width="0.95" fill="none"/>
<circle cx="380.10" cy="331.74" r="1.65" fill="#fff" stroke="#c86b5c" stroke-width="1.0"/>
<path d="M404.28,321.95V333.69M402.78,321.95h3M402.78,333.69h3" stroke="#c86b5c" stroke-width="0.95" fill="none"/>
<circle cx="404.28" cy="328.05" r="1.65" fill="#fff" stroke="#c86b5c" stroke-width="1.0"/>
<path d="M299.50,345.67 L324.32,336.40 L355.92,317.43 L380.10,310.28 L404.28,310.28" fill="none" stroke="#a80e30" stroke-width="1.3" />
<rect x="297.80" y="343.97" width="3.4" height="3.4" fill="#a80e30"/>
<path d="M324.32,329.48V339.87M322.82,329.48h3M322.82,339.87h3" stroke="#a80e30" stroke-width="0.95" fill="none"/>
<rect x="322.62" y="334.70" width="3.4" height="3.4" fill="#a80e30"/>
<path d="M355.92,313.51V321.42M354.42,313.51h3M354.42,321.42h3" stroke="#a80e30" stroke-width="0.95" fill="none"/>
<rect x="354.22" y="315.73" width="3.4" height="3.4" fill="#a80e30"/>
<rect x="378.40" y="308.58" width="3.4" height="3.4" fill="#a80e30"/>
<rect x="402.58" y="308.58" width="3.4" height="3.4" fill="#a80e30"/>
<path d="M418.70,311.22h1.3M427.10,311.22h1.3" stroke="#7482bb" stroke-width="1.2" fill="none"/>
<circle cx="423.55" cy="311.22" r="1.65" fill="#fff" stroke="#7482bb" stroke-width="1.0"/>
<line x1="423.55" y1="310.02" x2="423.55" y2="312.42" stroke="#7482bb" stroke-width="0.6" />
<text transform="translate(431.40,314.12) scale(0.903,1)" font-size="8.7" text-anchor="start" fill="#231f20" font-weight="normal"  >WT DMSO</text>
<path d="M418.70,322.92h1.3M427.10,322.92h1.3" stroke="#1d3c7c" stroke-width="1.2" fill="none"/>
<rect x="422.05" y="321.42" width="3.0" height="3.0" fill="#1d3c7c"/>
<text transform="translate(431.40,325.82) scale(0.903,1)" font-size="8.7" text-anchor="start" fill="#231f20" font-weight="normal"  >WT MCL1-i IC<tspan font-size="6.6" dy="2.3">20</tspan><tspan dy="-2.3"> </tspan>+ DAC</text>
<path d="M418.70,334.22h1.3M427.10,334.22h1.3" stroke="#d58b7e" stroke-width="1.2" fill="none"/>
<rect x="421.85" y="332.42" width="3.4" height="3.6" fill="#fff" stroke="#d58b7e" stroke-width="1.0"/>
<line x1="423.55" y1="332.82" x2="423.55" y2="335.62" stroke="#d58b7e" stroke-width="0.6" />
<text transform="translate(431.40,337.12) scale(0.903,1)" font-size="8.7" text-anchor="start" fill="#231f20" font-weight="normal"  ><tspan font-style="italic">TP53</tspan> KO DMSO</text>
<line x1="419.00" y1="345.82" x2="428.10" y2="345.82" stroke="#a80e30" stroke-width="1.5" />
<ellipse cx="423.55" cy="345.82" rx="2.3" ry="1.9" fill="#a80e30"/>
<text transform="translate(431.40,348.72) scale(0.903,1)" font-size="8.7" text-anchor="start" fill="#231f20" font-weight="normal"  ><tspan font-style="italic">TP53</tspan> KO</text>
<text transform="translate(431.40,358.72) scale(0.903,1)" font-size="8.7" text-anchor="start" fill="#231f20" font-weight="normal"  >MCL1-i IC<tspan font-size="6.6" dy="2.3">20</tspan><tspan dy="-2.3"> </tspan>+ DAC</text>
<text transform="translate(7.70,441.36) scale(0.95,1)" font-size="12.7" fill="#000" font-weight="bold" stroke="#000" stroke-width="0.25">D</text>
<line x1="41.50" y1="449.20" x2="41.50" y2="525.10" stroke="#000" stroke-width="1.2" />
<line x1="40.90" y1="524.50" x2="107.90" y2="524.50" stroke="#000" stroke-width="1.2" />
<line x1="38.30" y1="524.50" x2="41.50" y2="524.50" stroke="#000" stroke-width="1.0" />
<text transform="translate(35.70,527.70) scale(0.9,1)" font-size="9.2" text-anchor="end" fill="#231f20" font-weight="normal" stroke="#231f20" stroke-width="0.17" >0</text>
<line x1="38.30" y1="488.20" x2="41.50" y2="488.20" stroke="#000" stroke-width="1.0" />
<text transform="translate(35.70,491.40) scale(0.9,1)" font-size="9.2" text-anchor="end" fill="#231f20" font-weight="normal" stroke="#231f20" stroke-width="0.17" >50</text>
<line x1="38.30" y1="451.90" x2="41.50" y2="451.90" stroke="#000" stroke-width="1.0" />
<text transform="translate(35.70,455.10) scale(0.9,1)" font-size="9.2" text-anchor="end" fill="#231f20" font-weight="normal" stroke="#231f20" stroke-width="0.17" >100</text>
<line x1="57.50" y1="524.50" x2="57.50" y2="527.50" stroke="#000" stroke-width="1.0" />
<text transform="translate(57.50,538.10) scale(0.9,1)" font-size="9.2" text-anchor="middle" fill="#231f20" font-weight="normal" stroke="#231f20" stroke-width="0.17" >0</text>
<line x1="105.00" y1="524.50" x2="105.00" y2="527.50" stroke="#000" stroke-width="1.0" />
<text transform="translate(105.00,538.10) scale(0.9,1)" font-size="9.2" text-anchor="middle" fill="#231f20" font-weight="normal" stroke="#231f20" stroke-width="0.17" >7</text>
<text transform="translate(75.60,552.20) scale(0.7,1)" font-size="10.8" text-anchor="middle" fill="#231f20" font-weight="normal" stroke="#231f20" stroke-width="0.17" letter-spacing="-0.5">Days</text>
<text transform="translate(16.20,487.90) rotate(-90) scale(0.70,1)" font-size="11" text-anchor="middle" fill="#231f20" letter-spacing="-0.25" stroke="#231f20" stroke-width="0.17">% cells</text>
<path d="M57.50,488.20 L81.25,516.73 L105.00,518.76" fill="none" stroke="#2a4a8a" stroke-width="1.25"/>
<circle cx="57.50" cy="488.20" r="1.3" fill="#2a4a8a"/>
<path d="M81.25,511.87V521.31M79.75,511.87h3M79.75,521.31h3" stroke="#2a4a8a" stroke-width="0.9" fill="none"/>
<circle cx="81.25" cy="516.73" r="1.3" fill="#2a4a8a"/>
<path d="M105.00,512.01V524.50M103.50,512.01h3M103.50,524.50h3" stroke="#2a4a8a" stroke-width="0.9" fill="none"/>
<circle cx="105.00" cy="518.76" r="1.3" fill="#2a4a8a"/>
<path d="M57.50,488.20 L81.25,460.39 L105.00,458.00" fill="none" stroke="#ad1038" stroke-width="1.25"/>
<path d="M57.50,486.09V489.94M56.00,486.09h3M56.00,489.94h3" stroke="#ad1038" stroke-width="0.9" fill="none"/>
<circle cx="57.50" cy="488.20" r="1.3" fill="#ad1038"/>
<path d="M81.25,455.68V465.33M79.75,455.68h3M79.75,465.33h3" stroke="#ad1038" stroke-width="0.9" fill="none"/>
<circle cx="81.25" cy="460.39" r="1.3" fill="#ad1038"/>
<path d="M105.00,451.32V464.53M103.50,451.32h3M103.50,464.53h3" stroke="#ad1038" stroke-width="0.9" fill="none"/>
<circle cx="105.00" cy="458.00" r="1.3" fill="#ad1038"/>
<line x1="111.30" y1="453.10" x2="120.50" y2="453.10" stroke="#2a4a8a" stroke-width="1.2" />
<circle cx="115.90" cy="453.10" r="1.3" fill="#2a4a8a"/>
<text transform="translate(124.00,456.00) scale(0.89,1)" font-size="8.6" text-anchor="start" fill="#231f20" font-weight="normal"  >WT VEN</text>
<line x1="111.30" y1="465.00" x2="120.50" y2="465.00" stroke="#ad1038" stroke-width="1.2" />
<circle cx="115.90" cy="465.00" r="1.3" fill="#ad1038"/>
<text transform="translate(124.00,467.90) scale(0.89,1)" font-size="8.6" text-anchor="start" fill="#231f20" font-weight="normal"  ><tspan font-style="italic">TP53 KO</tspan></text>
<text transform="translate(124.00,477.20) scale(0.89,1)" font-size="8.6" text-anchor="start" fill="#231f20" font-weight="normal"  ><tspan font-style="italic">VEN</tspan></text>
<line x1="198.50" y1="449.20" x2="198.50" y2="525.10" stroke="#000" stroke-width="1.2" />
<line x1="197.90" y1="524.50" x2="264.90" y2="524.50" stroke="#000" stroke-width="1.2" />
<line x1="195.30" y1="524.50" x2="198.50" y2="524.50" stroke="#000" stroke-width="1.0" />
<text transform="translate(192.70,527.70) scale(0.9,1)" font-size="9.2" text-anchor="end" fill="#231f20" font-weight="normal" stroke="#231f20" stroke-width="0.17" >0</text>
<line x1="195.30" y1="488.20" x2="198.50" y2="488.20" stroke="#000" stroke-width="1.0" />
<text transform="translate(192.70,491.40) scale(0.9,1)" font-size="9.2" text-anchor="end" fill="#231f20" font-weight="normal" stroke="#231f20" stroke-width="0.17" >50</text>
<line x1="195.30" y1="451.90" x2="198.50" y2="451.90" stroke="#000" stroke-width="1.0" />
<text transform="translate(192.70,455.10) scale(0.9,1)" font-size="9.2" text-anchor="end" fill="#231f20" font-weight="normal" stroke="#231f20" stroke-width="0.17" >100</text>
<line x1="214.50" y1="524.50" x2="214.50" y2="527.50" stroke="#000" stroke-width="1.0" />
<text transform="translate(214.50,538.10) scale(0.9,1)" font-size="9.2" text-anchor="middle" fill="#231f20" font-weight="normal" stroke="#231f20" stroke-width="0.17" >0</text>
<line x1="262.00" y1="524.50" x2="262.00" y2="527.50" stroke="#000" stroke-width="1.0" />
<text transform="translate(262.00,538.10) scale(0.9,1)" font-size="9.2" text-anchor="middle" fill="#231f20" font-weight="normal" stroke="#231f20" stroke-width="0.17" >7</text>
<text transform="translate(232.60,552.20) scale(0.7,1)" font-size="10.8" text-anchor="middle" fill="#231f20" font-weight="normal" stroke="#231f20" stroke-width="0.17" letter-spacing="-0.5">Days</text>
<text transform="translate(173.20,487.90) rotate(-90) scale(0.70,1)" font-size="11" text-anchor="middle" fill="#231f20" letter-spacing="-0.25" stroke="#231f20" stroke-width="0.17">% cells</text>
<path d="M214.50,488.20 L238.25,518.76 L262.00,519.27" fill="none" stroke="#2a4a8a" stroke-width="1.25"/>
<circle cx="214.50" cy="488.20" r="1.3" fill="#2a4a8a"/>
<path d="M238.25,510.05V524.50M236.75,510.05h3M236.75,524.50h3" stroke="#2a4a8a" stroke-width="0.9" fill="none"/>
<circle cx="238.25" cy="518.76" r="1.3" fill="#2a4a8a"/>
<path d="M262.00,513.90V524.50M260.50,513.90h3M260.50,524.50h3" stroke="#2a4a8a" stroke-width="0.9" fill="none"/>
<circle cx="262.00" cy="519.27" r="1.3" fill="#2a4a8a"/>
<path d="M214.50,488.20 L238.25,458.87 L262.00,458.94" fill="none" stroke="#ad1038" stroke-width="1.25"/>
<path d="M214.50,486.17V490.23M213.00,486.17h3M213.00,490.23h3" stroke="#ad1038" stroke-width="0.9" fill="none"/>
<circle cx="214.50" cy="488.20" r="1.3" fill="#ad1038"/>
<path d="M238.25,450.16V467.73M236.75,450.16h3M236.75,467.73h3" stroke="#ad1038" stroke-width="0.9" fill="none"/>
<circle cx="238.25" cy="458.87" r="1.3" fill="#ad1038"/>
<path d="M262.00,451.61V465.84M260.50,451.61h3M260.50,465.84h3" stroke="#ad1038" stroke-width="0.9" fill="none"/>
<circle cx="262.00" cy="458.94" r="1.3" fill="#ad1038"/>
<line x1="268.30" y1="453.10" x2="277.50" y2="453.10" stroke="#2a4a8a" stroke-width="1.2" />
<circle cx="272.90" cy="453.10" r="1.3" fill="#2a4a8a"/>
<text transform="translate(281.00,456.00) scale(0.89,1)" font-size="8.6" text-anchor="start" fill="#231f20" font-weight="normal"  >WT MCL1-i</text>
<line x1="268.30" y1="465.00" x2="277.50" y2="465.00" stroke="#ad1038" stroke-width="1.2" />
<circle cx="272.90" cy="465.00" r="1.3" fill="#ad1038"/>
<text transform="translate(281.00,467.90) scale(0.89,1)" font-size="8.6" text-anchor="start" fill="#231f20" font-weight="normal"  ><tspan font-style="italic">TP53 KO</tspan></text>
<text transform="translate(281.00,477.20) scale(0.89,1)" font-size="8.6" text-anchor="start" fill="#231f20" font-weight="normal"  ><tspan font-style="italic">MCL1-i</tspan></text>
<line x1="364.50" y1="449.20" x2="364.50" y2="525.10" stroke="#000" stroke-width="1.2" />
<line x1="363.90" y1="524.50" x2="430.90" y2="524.50" stroke="#000" stroke-width="1.2" />
<line x1="361.30" y1="524.50" x2="364.50" y2="524.50" stroke="#000" stroke-width="1.0" />
<text transform="translate(358.70,527.70) scale(0.9,1)" font-size="9.2" text-anchor="end" fill="#231f20" font-weight="normal" stroke="#231f20" stroke-width="0.17" >0</text>
<line x1="361.30" y1="488.20" x2="364.50" y2="488.20" stroke="#000" stroke-width="1.0" />
<text transform="translate(358.70,491.40) scale(0.9,1)" font-size="9.2" text-anchor="end" fill="#231f20" font-weight="normal" stroke="#231f20" stroke-width="0.17" >50</text>
<line x1="361.30" y1="451.90" x2="364.50" y2="451.90" stroke="#000" stroke-width="1.0" />
<text transform="translate(358.70,455.10) scale(0.9,1)" font-size="9.2" text-anchor="end" fill="#231f20" font-weight="normal" stroke="#231f20" stroke-width="0.17" >100</text>
<line x1="380.50" y1="524.50" x2="380.50" y2="527.50" stroke="#000" stroke-width="1.0" />
<text transform="translate(380.50,538.10) scale(0.9,1)" font-size="9.2" text-anchor="middle" fill="#231f20" font-weight="normal" stroke="#231f20" stroke-width="0.17" >0</text>
<line x1="428.00" y1="524.50" x2="428.00" y2="527.50" stroke="#000" stroke-width="1.0" />
<text transform="translate(428.00,538.10) scale(0.9,1)" font-size="9.2" text-anchor="middle" fill="#231f20" font-weight="normal" stroke="#231f20" stroke-width="0.17" >7</text>
<text transform="translate(398.60,552.20) scale(0.7,1)" font-size="10.8" text-anchor="middle" fill="#231f20" font-weight="normal" stroke="#231f20" stroke-width="0.17" letter-spacing="-0.5">Days</text>
<text transform="translate(339.20,487.90) rotate(-90) scale(0.70,1)" font-size="11" text-anchor="middle" fill="#231f20" letter-spacing="-0.25" stroke="#231f20" stroke-width="0.17">% cells</text>
<path d="M380.50,488.20 L404.25,502.07 L428.00,524.50" fill="none" stroke="#2a4a8a" stroke-width="1.25"/>
<circle cx="380.50" cy="488.20" r="1.3" fill="#2a4a8a"/>
<path d="M404.25,491.68V511.87M402.75,491.68h3M402.75,511.87h3" stroke="#2a4a8a" stroke-width="0.9" fill="none"/>
<circle cx="404.25" cy="502.07" r="1.3" fill="#2a4a8a"/>
<circle cx="428.00" cy="524.50" r="1.3" fill="#2a4a8a"/>
<path d="M380.50,488.20 L404.25,475.42 L428.00,524.50" fill="none" stroke="#ad1038" stroke-width="1.25"/>
<path d="M380.50,486.38V490.01M379.00,486.38h3M379.00,490.01h3" stroke="#ad1038" stroke-width="0.9" fill="none"/>
<circle cx="380.50" cy="488.20" r="1.3" fill="#ad1038"/>
<path d="M404.25,464.68V485.73M402.75,464.68h3M402.75,485.73h3" stroke="#ad1038" stroke-width="0.9" fill="none"/>
<circle cx="404.25" cy="475.42" r="1.3" fill="#ad1038"/>
<circle cx="428.00" cy="524.50" r="1.3" fill="#ad1038"/>
<line x1="434.30" y1="453.10" x2="443.50" y2="453.10" stroke="#2a4a8a" stroke-width="1.2" />
<circle cx="438.90" cy="453.10" r="1.3" fill="#2a4a8a"/>
<text transform="translate(447.00,456.00) scale(0.89,1)" font-size="8.6" text-anchor="start" fill="#231f20" font-weight="normal"  >WT VEN + MCL1-i</text>
<line x1="434.30" y1="465.00" x2="443.50" y2="465.00" stroke="#ad1038" stroke-width="1.2" />
<circle cx="438.90" cy="465.00" r="1.3" fill="#ad1038"/>
<text transform="translate(447.00,467.90) scale(0.89,1)" font-size="8.6" text-anchor="start" fill="#231f20" font-weight="normal"  ><tspan font-style="italic">TP53 KO VEN +</tspan></text>
<text transform="translate(447.00,477.20) scale(0.89,1)" font-size="8.6" text-anchor="start" fill="#231f20" font-weight="normal"  ><tspan font-style="italic">MCL1-i</tspan></text>
</svg>
<div class="frame"></div>
</body></html>
